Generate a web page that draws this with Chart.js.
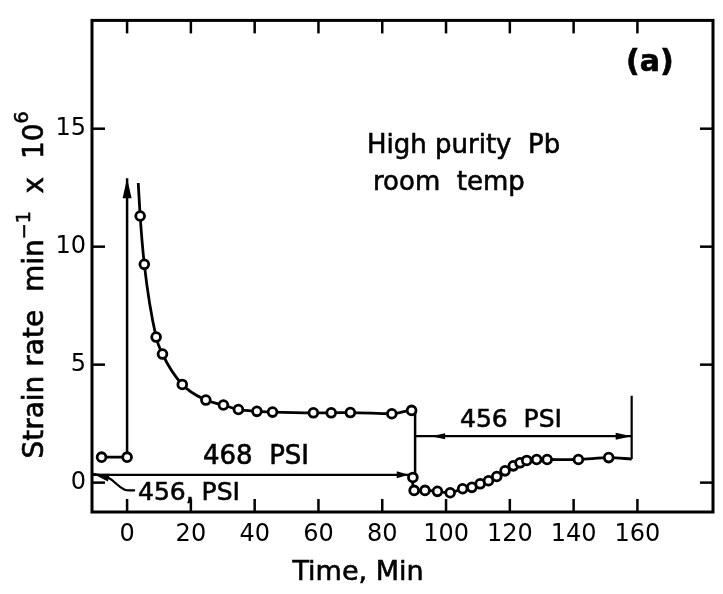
<!DOCTYPE html>
<html>
<head>
<meta charset="utf-8">
<script src="https://cdn.jsdelivr.net/npm/chart.js@4.4.0/dist/chart.umd.min.js"></script>
<style>
html,body{margin:0;padding:0;background:#fff;}
#wrap{width:723px;height:594px;}
</style>
</head>
<body>
<div id="wrap"><canvas id="chart" width="723" height="594"></canvas></div>
<script>
// tick values
const xTicks = [0, 20, 40, 60, 80, 100, 120, 140, 160];
const yTicks = [0, 5, 10, 15];

// before the load change (456 PSI)
const preX = [-8, 0];
const preY = [1.08, 1.08];
// jump at loading
const jumpX = [0, 0];
const jumpY = [1.08, 12.9];
// transient at 468 PSI
const creepX = [3.5, 4.1, 5.4, 9.1, 11.1, 17.3, 24.7, 30.2, 34.9, 40.7, 45.6, 58.4, 64.0, 70.0, 83.0, 89.2, 90.3];
const creepY = [12.7, 11.3, 9.25, 6.17, 5.45, 4.16, 3.5, 3.29, 3.1, 3.02, 2.99, 2.96, 2.96, 2.97, 2.92, 3.06, 3.06];
// drop at unloading
const dropX = [90.3, 90.3];
const dropY = [3.06, 0.24];
// recovery at 456 PSI
const recovX = [90.3, 89.6, 90.0, 93.4, 97.3, 101.3, 105.2, 108.1, 110.7, 113.3, 115.9, 118.5, 121.1, 123.2, 125.3, 128.4, 131.7, 141.5, 151.0, 158.2];
const recovY = [0.24, 0.22, -0.33, -0.33, -0.37, -0.43, -0.26, -0.20, -0.05, 0.08, 0.26, 0.50, 0.71, 0.84, 0.94, 0.98, 0.98, 0.98, 1.06, 1.0];
// end marker
const endX = [158.2, 158.2];
const endY = [1.0, 3.68];
// load span arrows
const psi468X = [-11, 88.3];
const psi468Y = [0.33, 0.33];
const psi456X = [90.3, 158.2];
const psi456Y = [1.97, 1.97];
const leaderX = [-10.6, -6.0, -0.9, 2.5];
const leaderY = [0.37, 0.22, -0.29, -0.33];

const FONT = '"DejaVu Sans", sans-serif';

function pts(xs, ys){ return xs.map((v,i)=>({x:v, y:ys[i]})); }
function lineDs(xs, ys, extra){
  return Object.assign({
    data: pts(xs, ys), showLine: true, borderColor: '#000', borderWidth: 2.8,
    pointRadius: 0, tension: 0, fill: false,
    pointBackgroundColor: '#fff', pointBorderColor: '#000', pointBorderWidth: 2.8
  }, extra || {});
}
function markers(n, skip){ return Array.from({length:n}, (_,i)=> skip.includes(i) ? 0 : 4.4); }

function arrowHead(ctx, tx, ty, fx, fy, len, hw){
  const a = Math.atan2(ty-fy, tx-fx);
  ctx.beginPath();
  ctx.moveTo(tx, ty);
  ctx.lineTo(tx - len*Math.cos(a) + hw*Math.sin(a), ty - len*Math.sin(a) - hw*Math.cos(a));
  ctx.lineTo(tx - len*Math.cos(a) - hw*Math.sin(a), ty - len*Math.sin(a) + hw*Math.cos(a));
  ctx.closePath();
  ctx.fill();
}

// text with a thin outline so it reads as heavy as the lettering
function txt(ctx, s, x, y){
  ctx.fillText(s, x, y);
  ctx.strokeText(s, x, y);
}

const frame = {
  id: 'frame',
  afterDatasetsDraw(chart){
    const {ctx, chartArea:a, scales:{x, y}} = chart;
    ctx.save();
    ctx.strokeStyle = '#000';
    ctx.fillStyle = '#000';
    ctx.lineWidth = 3;
    ctx.strokeRect(a.left, a.top, a.right-a.left, a.bottom-a.top);
    ctx.lineWidth = 2.5;
    const tl = 13;
    const seg = (x1,y1,x2,y2)=>{ ctx.beginPath(); ctx.moveTo(x1,y1); ctx.lineTo(x2,y2); ctx.stroke(); };
    xTicks.forEach(v => {
      const p = x.getPixelForValue(v);
      seg(p, a.bottom, p, a.bottom - tl);
      seg(p, a.top, p, a.top + tl);
    });
    yTicks.forEach(v => {
      const p = y.getPixelForValue(v);
      seg(a.left, p, a.left + tl, p);
      seg(a.right, p, a.right - tl, p);
    });
    const X = v => x.getPixelForValue(v), Y = v => y.getPixelForValue(v);
    // arrowheads
    arrowHead(ctx, X(jumpX[1]), Y(jumpY[1]), X(jumpX[0]), Y(jumpY[0]), 20, 4.5);
    arrowHead(ctx, X(psi468X[1]), Y(psi468Y[1]), X(psi468X[0]), Y(psi468Y[0]), 12, 3.5);
    arrowHead(ctx, X(psi456X[0]) + 16, Y(psi456Y[0]), X(psi456X[1]), Y(psi456Y[1]), 14, 3);
    arrowHead(ctx, X(psi456X[1]), Y(psi456Y[1]), X(psi456X[0]), Y(psi456Y[0]), 16, 3.5);
    arrowHead(ctx, X(leaderX[0]), Y(leaderY[0]), X(leaderX[1]), Y(leaderY[1]), 16, 4);

    // annotation text
    ctx.lineWidth = 0.6;
    ctx.textBaseline = 'middle';
    ctx.textAlign = 'left';
    ctx.font = `26px ${FONT}`;
    txt(ctx, '468  PSI', 203, 457);
    ctx.font = `25px ${FONT}`;
    txt(ctx, '456, PSI', 138, 493);
    txt(ctx, '456  PSI', 460, 420);
    ctx.font = `26px ${FONT}`;
    txt(ctx, 'High purity  Pb', 367, 146);
    txt(ctx, 'room  temp', 373, 183);
    ctx.font = `bold 30px ${FONT}`;
    txt(ctx, '(a)', 626, 63);

    // axis titles
    ctx.font = `27px ${FONT}`;
    ctx.textAlign = 'center';
    txt(ctx, 'Time, Min', 358, 573);

    ctx.translate(43, 285);
    ctx.rotate(-Math.PI/2);
    ctx.textBaseline = 'alphabetic';
    ctx.textAlign = 'left';
    const parts = [['Strain rate  min', 28, 0], ['\u22121', 19, -13], ['  x  10', 28, 0], ['6', 19, -15]];
    let total = 0;
    parts.forEach(p => { ctx.font = `${p[1]}px ${FONT}`; total += ctx.measureText(p[0]).width; });
    let cx = -total/2;
    parts.forEach(p => {
      ctx.font = `${p[1]}px ${FONT}`;
      txt(ctx, p[0], cx, p[2]);
      cx += ctx.measureText(p[0]).width;
    });
    ctx.restore();
  }
};

new Chart(document.getElementById('chart').getContext('2d'), {
  type: 'scatter',
  data: {
    datasets: [
      lineDs(preX, preY, {pointRadius: 4.4}),
      lineDs(creepX, creepY, {pointRadius: markers(creepX.length, [0, creepX.length-1]), cubicInterpolationMode: 'monotone'}),
      lineDs(recovX, recovY, {pointRadius: markers(recovX.length, [0, recovX.length-1]), tension: 0.3}),
      lineDs(jumpX, jumpY, {borderWidth: 2.5}),
      lineDs(dropX, dropY, {borderWidth: 2.5}),
      lineDs(endX, endY, {borderWidth: 2.2}),
      lineDs(psi468X, psi468Y, {borderWidth: 2.2}),
      lineDs(psi456X, psi456Y, {borderWidth: 2.2}),
      lineDs(leaderX, leaderY, {borderWidth: 2.2, tension: 0.4})
    ]
  },
  options: {
    responsive: false,
    animation: false,
    layout: {padding: {top: 10, right: 10, left: 0, bottom: 0}},
    plugins: {legend: {display: false}, tooltip: {enabled: false}},
    scales: {
      x: {
        type: 'linear', min: -11, max: 183.7,
        afterBuildTicks: s => { s.ticks = xTicks.map(v => ({value: v})); },
        afterFit: s => { s.height = 82; },
        grid: {display: false, drawTicks: false},
        border: {display: false},
        ticks: {padding: 8, color: '#000', font: {family: FONT, size: 24}, maxRotation: 0, autoSkip: false}
      },
      y: {
        type: 'linear', min: -1.245, max: 19.59,
        afterBuildTicks: s => { s.ticks = yTicks.map(v => ({value: v})); },
        afterFit: s => { s.width = 92; },
        grid: {display: false, drawTicks: false},
        border: {display: false},
        ticks: {padding: 6, color: '#000', font: {family: FONT, size: 24}, autoSkip: false}
      }
    }
  },
  plugins: [frame]
});
</script>
</body>
</html>
